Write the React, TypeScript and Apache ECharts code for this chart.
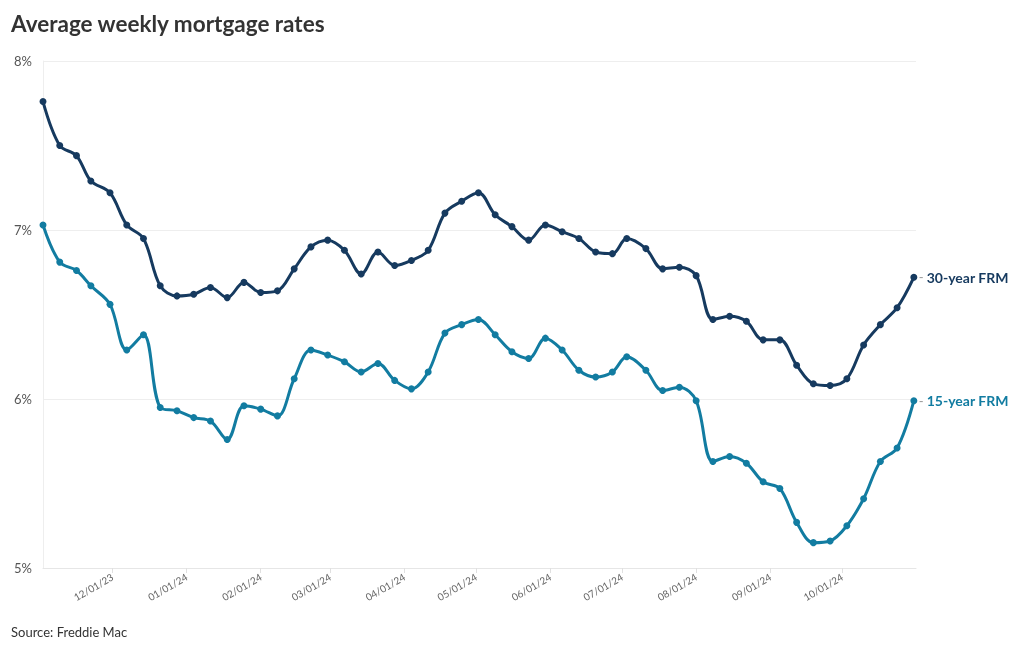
import { useEffect, useRef } from "react";
import * as echarts from "echarts";

const weeks = [
  "2023-11-02", "2023-11-09", "2023-11-16", "2023-11-22", "2023-11-30",
  "2023-12-07", "2023-12-14", "2023-12-21", "2023-12-28",
  "2024-01-04", "2024-01-11", "2024-01-18", "2024-01-25",
  "2024-02-01", "2024-02-08", "2024-02-15", "2024-02-22", "2024-02-29",
  "2024-03-07", "2024-03-14", "2024-03-21", "2024-03-28",
  "2024-04-04", "2024-04-11", "2024-04-18", "2024-04-25",
  "2024-05-02", "2024-05-09", "2024-05-16", "2024-05-23", "2024-05-30",
  "2024-06-06", "2024-06-13", "2024-06-20", "2024-06-27",
  "2024-07-03", "2024-07-11", "2024-07-18", "2024-07-25",
  "2024-08-01", "2024-08-08", "2024-08-15", "2024-08-22", "2024-08-29",
  "2024-09-05", "2024-09-12", "2024-09-19", "2024-09-26",
  "2024-10-03", "2024-10-10", "2024-10-17", "2024-10-24", "2024-10-31",
];

const frm30 = [
  7.76, 7.5, 7.44, 7.29, 7.22,
  7.03, 6.95, 6.67, 6.61,
  6.62, 6.66, 6.6, 6.69,
  6.63, 6.64, 6.77, 6.9, 6.94,
  6.88, 6.74, 6.87, 6.79,
  6.82, 6.88, 7.1, 7.17,
  7.22, 7.09, 7.02, 6.94, 7.03,
  6.99, 6.95, 6.87, 6.86,
  6.95, 6.89, 6.77, 6.78,
  6.73, 6.47, 6.49, 6.46, 6.35,
  6.35, 6.2, 6.09, 6.08,
  6.12, 6.32, 6.44, 6.54, 6.72,
];

const frm15 = [
  7.03, 6.81, 6.76, 6.67, 6.56,
  6.29, 6.38, 5.95, 5.93,
  5.89, 5.87, 5.76, 5.96,
  5.94, 5.9, 6.12, 6.29, 6.26,
  6.22, 6.16, 6.21, 6.11,
  6.06, 6.16, 6.39, 6.44,
  6.47, 6.38, 6.28, 6.24, 6.36,
  6.29, 6.17, 6.13, 6.16,
  6.25, 6.17, 6.05, 6.07,
  5.99, 5.63, 5.66, 5.62, 5.51,
  5.47, 5.27, 5.15, 5.16,
  5.25, 5.41, 5.63, 5.71, 5.99,
];

const seriesNames = ["30-year FRM", "15-year FRM"];
const seriesColors = ["#163a5f", "#127ca1"];

const FONT = "Lato, 'Noto Sans', sans-serif";
const DAY = 86400000;

function fmtDate(v: number): string {
  const d = new Date(v);
  const mm = String(d.getMonth() + 1).padStart(2, "0");
  const dd = String(d.getDate()).padStart(2, "0");
  const yy = String(d.getFullYear()).slice(2);
  return `${mm}/${dd}/${yy}`;
}

export default function App() {
  const ref = useRef<HTMLDivElement | null>(null);

  useEffect(() => {
    if (!ref.current) return;
    const chart = echarts.init(ref.current, undefined, { renderer: "svg" });

    const makeSeries = (idx: number, values: number[]) => ({
      name: seriesNames[idx],
      type: "line",
      smooth: 0.35,
      data: weeks.map((w, i) => [w, values[i]]),
      symbol: "circle",
      symbolSize: 7,
      lineStyle: { width: 3, color: seriesColors[idx] },
      itemStyle: { color: seriesColors[idx] },
      endLabel: {
        show: true,
        formatter: () => `{dash|-} {name|${seriesNames[idx]}}`,
        distance: 5,
        rich: {
          dash: { color: "#999999", fontSize: 13, fontFamily: FONT },
          name: {
            color: seriesColors[idx],
            fontSize: 14,
            fontWeight: "bold",
            fontFamily: FONT,
          },
        },
      },
    });

    chart.setOption({
      animation: false,
      textStyle: { fontFamily: FONT },
      title: {
        text: "Average weekly mortgage rates",
        left: 6,
        top: 7,
        textStyle: {
          fontFamily: FONT,
          fontSize: 22.5,
          fontWeight: "bold",
          color: "#333333",
        },
      },
      graphic: [
        {
          type: "text",
          left: 11,
          top: 625,
          style: {
            text: "Source: Freddie Mac",
            fontFamily: FONT,
            fontSize: 13,
            fill: "#333333",
          },
        },
      ],
      grid: { left: 43, right: 104, top: 61, bottom: 82 },
      xAxis: {
        type: "time",
        min: new Date(2023, 10, 2).getTime(),
        max: new Date(2024, 9, 31).getTime() + 0.9 * DAY,
        minInterval: 28 * DAY,
        maxInterval: 31 * DAY,
        axisLine: { show: true, lineStyle: { color: "#e6e6e6" } },
        axisTick: { show: true, length: 5, lineStyle: { color: "#e0e0e0" } },
        splitLine: { show: false },
        axisLabel: {
          rotate: 30,
          fontSize: 10,
          color: "#666666",
          fontFamily: FONT,
          margin: 8,
          hideOverlap: false,
          formatter: (v: number) => fmtDate(v),
        },
      },
      yAxis: {
        type: "value",
        min: 5,
        max: 8,
        interval: 1,
        axisLine: { show: true, lineStyle: { color: "#eeeeee" } },
        axisTick: { show: false },
        splitLine: { lineStyle: { color: "#eeeeee" } },
        axisLabel: {
          formatter: "{value}%",
          fontSize: 13,
          color: "#555555",
          fontFamily: FONT,
          margin: 11,
        },
      },
      series: [makeSeries(0, frm30), makeSeries(1, frm15)],
    });

    return () => chart.dispose();
  }, []);

  return (
    <div
      ref={ref}
      style={{ position: "fixed", left: 0, top: 0, width: 1020, height: 650 }}
    />
  );
}
